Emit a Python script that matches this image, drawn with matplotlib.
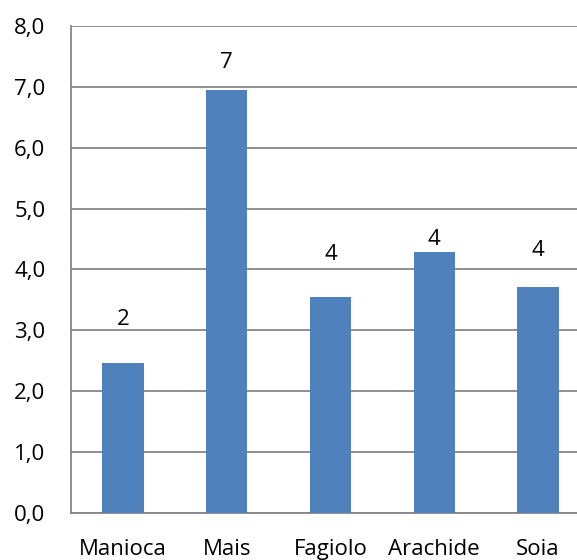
import matplotlib
matplotlib.use("Agg")
import matplotlib.pyplot as plt

categories = ["Manioca", "Mais", "Fagiolo", "Arachide", "Soia"]
values = [2.46, 6.95, 3.54, 4.28, 3.71]
labels = ["2", "7", "4", "4", "4"]
label_offsets_px = [44, 27, 43, 13, 36]  # label centre above bar top, in pixels
yticks = [0, 1, 2, 3, 4, 5, 6, 7, 8]

plt.rcParams['font.family'] = ['Open Sans', 'DejaVu Sans']

W, H = 577, 560
fig = plt.figure(figsize=(W / 100, H / 100), dpi=100)
left_px, right_px, bottom_px, top_px = 71, 577, 47.3, 534
ax = fig.add_axes([left_px / W, bottom_px / H, (right_px - left_px) / W, (top_px - bottom_px) / H])

x = list(range(len(categories)))
ax.bar(x, values, width=0.4, color="#4F81BD", zorder=3)

ax.set_ylim(0, 8)
ax.set_xlim(-0.5, -0.5 + (right_px - left_px) / 103.8)
ax.set_yticks(yticks)
ax.set_yticklabels([f"{t:.1f}".replace(".", ",") for t in yticks])
ax.set_xticks(x)
ax.set_xticklabels(categories)
ax.yaxis.grid(True, color="#868686", linewidth=1.3, zorder=0)
ax.set_axisbelow(True)
for s in ["top", "right"]:
    ax.spines[s].set_visible(False)
for s in ["left", "bottom"]:
    ax.spines[s].set_color("#868686")
    ax.spines[s].set_linewidth(1.3)
ax.tick_params(axis="both", length=0, labelsize=16, colors="black")
ax.tick_params(axis="y", pad=18.5)
ax.tick_params(axis="x", pad=19)

for xi, v, lab, off in zip(x, values, labels, label_offsets_px):
    ax.annotate(lab, xy=(xi, v), xytext=(0, off * 0.72), textcoords="offset points",
                ha="center", va="center", fontsize=16)

fig.savefig("out.png", dpi=100)
